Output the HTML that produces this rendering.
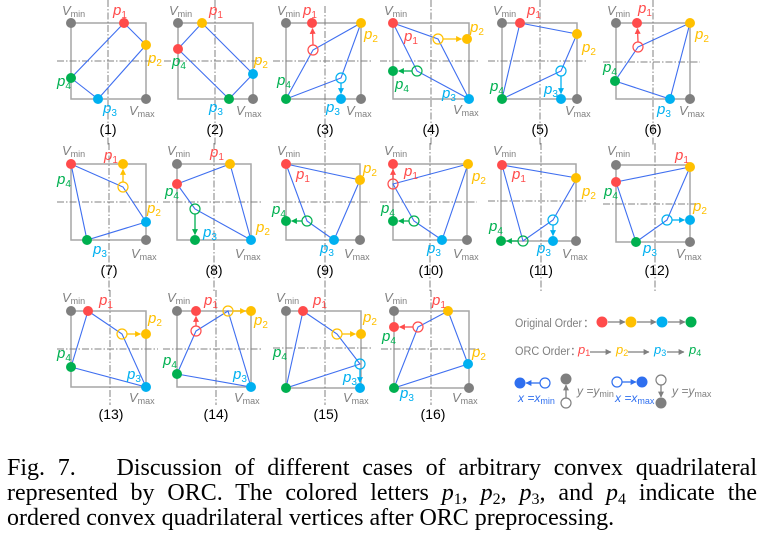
<!DOCTYPE html>
<html><head><meta charset="utf-8">
<style>
html,body{margin:0;padding:0;background:#fff;}
body{width:765px;height:538px;position:relative;overflow:hidden;}
svg{position:absolute;left:0;top:0;}
.bx{fill:none;stroke:#a6a6a6;stroke-width:1.5}
.dd{fill:none;stroke:#808080;stroke-width:1;stroke-dasharray:7 2 1.5 2}
.q{fill:none;stroke:#3f6ff0;stroke-width:1.1}
.r{fill:#ff4b4b}.o{fill:#ffc000}.b{fill:#00b0f0}.g{fill:#00b050}.k{fill:#7f7f7f}
.hr{fill:none;stroke:#ff4b4b;stroke-width:1.2}
.ho{fill:none;stroke:#ffc000;stroke-width:1.2}
.hb{fill:none;stroke:#00b0f0;stroke-width:1.2}
.hg{fill:none;stroke:#00b050;stroke-width:1.2}
.ar{stroke:#ff4b4b;stroke-width:1.3;marker-end:url(#mR)}
.ao{stroke:#ffc000;stroke-width:1.3;marker-end:url(#mO)}
.ab{stroke:#00b0f0;stroke-width:1.3;marker-end:url(#mB)}
.ag{stroke:#00b050;stroke-width:1.3;marker-end:url(#mG)}
.ak{stroke:#7f7f7f;stroke-width:1.3;marker-end:url(#mK)}
.al{stroke:#2f6fef;stroke-width:1.3;marker-end:url(#mL)}
text{font-family:"Liberation Sans","Noto Sans CJK SC",sans-serif;}
.v{font-style:italic;font-size:13px;fill:#7f7f7f}
.p{font-style:italic;font-size:15px}
.s{font-style:normal;font-size:9px}
.s2{font-style:normal;font-size:10px}
.n{font-size:14px;fill:#000;text-anchor:middle}
.lg{font-size:11.5px;fill:#7f7f7f}
.lp{font-style:italic;font-size:13px}
.lx{font-style:italic;font-size:12px;fill:#2f6fef}
.ly{font-style:italic;font-size:12px;fill:#7f7f7f}
.cap{position:absolute;left:7px;width:750px;font-family:"Liberation Serif",serif;font-size:24px;line-height:25px;height:25px;white-space:normal;color:#000;}
.j{text-align:justify;text-align-last:justify;}
.cap sub{font-size:16px;vertical-align:0;position:relative;top:4px;line-height:0;}
</style></head>
<body>
<svg width="765" height="440" viewBox="0 0 765 440" xmlns="http://www.w3.org/2000/svg">
<defs>
<marker id="mR" viewBox="0 0 10 10" refX="9" refY="5" markerWidth="6" markerHeight="6" markerUnits="userSpaceOnUse" orient="auto"><path d="M0,0L10,5L0,10z" fill="#ff4b4b"/></marker>
<marker id="mO" viewBox="0 0 10 10" refX="9" refY="5" markerWidth="6" markerHeight="6" markerUnits="userSpaceOnUse" orient="auto"><path d="M0,0L10,5L0,10z" fill="#ffc000"/></marker>
<marker id="mB" viewBox="0 0 10 10" refX="9" refY="5" markerWidth="6" markerHeight="6" markerUnits="userSpaceOnUse" orient="auto"><path d="M0,0L10,5L0,10z" fill="#00b0f0"/></marker>
<marker id="mG" viewBox="0 0 10 10" refX="9" refY="5" markerWidth="6" markerHeight="6" markerUnits="userSpaceOnUse" orient="auto"><path d="M0,0L10,5L0,10z" fill="#00b050"/></marker>
<marker id="mK" viewBox="0 0 10 10" refX="9" refY="5" markerWidth="6" markerHeight="6" markerUnits="userSpaceOnUse" orient="auto"><path d="M0,0L10,5L0,10z" fill="#7f7f7f"/></marker>
<marker id="mL" viewBox="0 0 10 10" refX="9" refY="5" markerWidth="6" markerHeight="6" markerUnits="userSpaceOnUse" orient="auto"><path d="M0,0L10,5L0,10z" fill="#2f6fef"/></marker>
</defs>

<!-- Panel 1 -->
<rect class="bx" x="71" y="23" width="75" height="76"/>
<path class="dd" d="M108 0V146M57 61H158"/>
<polygon class="q" points="124,23 146,45 98,99 71,78"/>
<circle class="k" cx="71" cy="23" r="5"/><circle class="k" cx="146" cy="99" r="5"/>
<circle class="r" cx="124" cy="23" r="5"/><circle class="o" cx="146" cy="45" r="5"/><circle class="b" cx="98" cy="99" r="5"/><circle class="g" cx="71" cy="78" r="5"/>
<text class="v" x="62" y="15">V<tspan class="s" dy="2">min</tspan></text>
<text class="v" x="129" y="115">V<tspan class="s" dy="2">max</tspan></text>
<text class="p r" x="113" y="15">p<tspan class="s2" dy="3">1</tspan></text>
<text class="p o" x="148" y="63">p<tspan class="s2" dy="3">2</tspan></text>
<text class="p b" x="103" y="113">p<tspan class="s2" dy="3">3</tspan></text>
<text class="p g" x="57" y="86">p<tspan class="s2" dy="3">4</tspan></text>
<text class="n" x="108" y="134">(1)</text>

<!-- Panel 2 -->
<rect class="bx" x="178" y="23" width="75" height="76"/>
<path class="dd" d="M215 0V146M164 61H263"/>
<polygon class="q" points="178,49 202,23 253,74 229,99"/>
<circle class="k" cx="178" cy="23" r="5"/><circle class="k" cx="253" cy="99" r="5"/>
<circle class="r" cx="178" cy="49" r="5"/><circle class="o" cx="202" cy="23" r="5"/><circle class="b" cx="253" cy="74" r="5"/><circle class="g" cx="229" cy="99" r="5"/>
<text class="v" x="169" y="15">V<tspan class="s" dy="2">min</tspan></text>
<text class="v" x="236" y="115">V<tspan class="s" dy="2">max</tspan></text>
<text class="p r" x="209" y="15">p<tspan class="s2" dy="3">1</tspan></text>
<text class="p o" x="254" y="65">p<tspan class="s2" dy="3">2</tspan></text>
<text class="p b" x="209" y="112">p<tspan class="s2" dy="3">3</tspan></text>
<text class="p g" x="172" y="66">p<tspan class="s2" dy="3">4</tspan></text>
<text class="n" x="215" y="134">(2)</text>

<!-- Panel 3 -->
<rect class="bx" x="286" y="23" width="75" height="76"/>
<path class="dd" d="M325 6V146M273 61H372"/>
<polygon class="q" points="286,99 313,50 361,23 341,78"/>
<circle class="k" cx="286" cy="23" r="5"/><circle class="k" cx="361" cy="99" r="5"/>
<circle class="r" cx="312" cy="23" r="5"/><circle class="o" cx="361" cy="23" r="5"/><circle class="b" cx="341" cy="99" r="5"/><circle class="g" cx="286" cy="99" r="5"/>
<circle class="hr" cx="313" cy="50" r="5"/><circle class="hb" cx="341" cy="78" r="5"/>
<line class="ar" x1="313" y1="45" x2="312.5" y2="28.5"/>
<line class="ab" x1="341" y1="83" x2="341" y2="93.5"/>
<text class="v" x="277" y="15">V<tspan class="s" dy="2">min</tspan></text>
<text class="v" x="346" y="115">V<tspan class="s" dy="2">max</tspan></text>
<text class="p r" x="303" y="15">p<tspan class="s2" dy="3">1</tspan></text>
<text class="p o" x="364" y="39">p<tspan class="s2" dy="3">2</tspan></text>
<text class="p b" x="326" y="112">p<tspan class="s2" dy="3">3</tspan></text>
<text class="p g" x="277" y="85">p<tspan class="s2" dy="3">4</tspan></text>
<text class="n" x="325" y="134">(3)</text>

<!-- Panel 4 -->
<rect class="bx" x="393" y="23" width="76" height="76"/>
<path class="dd" d="M431 0V146M380 61H479"/>
<polygon class="q" points="393,23 438,39 469,99 417,71"/>
<circle class="r" cx="393" cy="23" r="5"/><circle class="o" cx="467" cy="39" r="5"/><circle class="b" cx="469" cy="99" r="5"/><circle class="g" cx="393" cy="71" r="5"/>
<circle class="ho" cx="438" cy="39" r="5"/><circle class="hg" cx="417" cy="71" r="5"/>
<line class="ao" x1="443" y1="39" x2="461.5" y2="39"/>
<line class="ag" x1="412" y1="71" x2="398.5" y2="71"/>
<text class="v" x="384" y="15">V<tspan class="s" dy="2">min</tspan></text>
<text class="v" x="453" y="114">V<tspan class="s" dy="2">max</tspan></text>
<text class="p r" x="404" y="41">p<tspan class="s2" dy="3">1</tspan></text>
<text class="p o" x="470" y="32">p<tspan class="s2" dy="3">2</tspan></text>
<text class="p b" x="442" y="98">p<tspan class="s2" dy="3">3</tspan></text>
<text class="p g" x="395" y="89">p<tspan class="s2" dy="3">4</tspan></text>
<text class="n" x="431" y="134">(4)</text>

<!-- Panel 5 -->
<rect class="bx" x="502" y="23" width="75" height="76"/>
<path class="dd" d="M540 0V146M488 61H587"/>
<polygon class="q" points="520,23 577,34 561,71 502,99"/>
<circle class="k" cx="502" cy="23" r="5"/><circle class="k" cx="577" cy="99" r="5"/>
<circle class="r" cx="520" cy="23" r="5"/><circle class="o" cx="577" cy="34" r="5"/><circle class="b" cx="561" cy="99" r="5"/><circle class="g" cx="502" cy="99" r="5"/>
<circle class="hb" cx="561" cy="71" r="5"/>
<line class="ab" x1="561" y1="76" x2="561" y2="93.5"/>
<text class="v" x="493" y="15">V<tspan class="s" dy="2">min</tspan></text>
<text class="v" x="565" y="115">V<tspan class="s" dy="2">max</tspan></text>
<text class="p r" x="527" y="15">p<tspan class="s2" dy="3">1</tspan></text>
<text class="p o" x="582" y="52">p<tspan class="s2" dy="3">2</tspan></text>
<text class="p b" x="544" y="94">p<tspan class="s2" dy="3">3</tspan></text>
<text class="p g" x="490" y="91">p<tspan class="s2" dy="3">4</tspan></text>
<text class="n" x="540" y="134">(5)</text>

<!-- Panel 6 -->
<rect class="bx" x="616" y="23" width="74" height="76"/>
<path class="dd" d="M653 0V146M603 62H700"/>
<polygon class="q" points="638,47 690,23 670,99 615,81"/>
<circle class="k" cx="616" cy="23" r="5"/><circle class="k" cx="690" cy="99" r="5"/>
<circle class="r" cx="637" cy="23" r="5"/><circle class="o" cx="690" cy="23" r="5"/><circle class="b" cx="670" cy="99" r="5"/><circle class="g" cx="615" cy="81" r="5"/>
<circle class="hr" cx="638" cy="47" r="5"/>
<line class="ar" x1="638" y1="42" x2="637.5" y2="28.5"/>
<text class="v" x="607" y="15">V<tspan class="s" dy="2">min</tspan></text>
<text class="v" x="679" y="115">V<tspan class="s" dy="2">max</tspan></text>
<text class="p r" x="638" y="13">p<tspan class="s2" dy="3">1</tspan></text>
<text class="p o" x="695" y="39">p<tspan class="s2" dy="3">2</tspan></text>
<text class="p b" x="657" y="114">p<tspan class="s2" dy="3">3</tspan></text>
<text class="p g" x="603" y="72">p<tspan class="s2" dy="3">4</tspan></text>
<text class="n" x="653" y="134">(6)</text>

<!-- Panel 7 -->
<rect class="bx" x="71" y="164" width="75" height="76"/>
<path class="dd" d="M109 143V292M57 202H158"/>
<polygon class="q" points="71,164 123,187 146,222 87,240"/>
<circle class="k" cx="146" cy="240" r="5"/>
<circle class="r" cx="71" cy="164" r="5"/><circle class="o" cx="123" cy="164" r="5"/><circle class="b" cx="146" cy="222" r="5"/><circle class="g" cx="87" cy="240" r="5"/>
<circle class="ho" cx="123" cy="187" r="5"/>
<line class="ao" x1="123" y1="182" x2="123" y2="169.5"/>
<text class="v" x="62" y="155">V<tspan class="s" dy="2">min</tspan></text>
<text class="v" x="131" y="258">V<tspan class="s" dy="2">max</tspan></text>
<text class="p r" x="104" y="160">p<tspan class="s2" dy="3">1</tspan></text>
<text class="p o" x="147" y="213">p<tspan class="s2" dy="3">2</tspan></text>
<text class="p b" x="93" y="254">p<tspan class="s2" dy="3">3</tspan></text>
<text class="p g" x="57" y="184">p<tspan class="s2" dy="3">4</tspan></text>
<text class="n" x="109" y="275">(7)</text>

<!-- Panel 8 -->
<rect class="bx" x="177" y="164" width="74" height="76"/>
<path class="dd" d="M214 143V292M163 202H262"/>
<polygon class="q" points="177,184 230,164 251,240 195,209"/>
<circle class="k" cx="177" cy="164" r="5"/>
<circle class="r" cx="177" cy="184" r="5"/><circle class="o" cx="230" cy="164" r="5"/><circle class="b" cx="251" cy="240" r="5"/><circle class="g" cx="195" cy="240" r="5"/>
<circle class="hg" cx="195" cy="209" r="5"/>
<line class="ag" x1="195" y1="214" x2="195" y2="234.5"/>
<text class="v" x="167" y="155">V<tspan class="s" dy="2">min</tspan></text>
<text class="v" x="235" y="258">V<tspan class="s" dy="2">max</tspan></text>
<text class="p r" x="210" y="157">p<tspan class="s2" dy="3">1</tspan></text>
<text class="p o" x="256" y="232">p<tspan class="s2" dy="3">2</tspan></text>
<text class="p b" x="203" y="237">p<tspan class="s2" dy="3">3</tspan></text>
<text class="p g" x="165" y="196">p<tspan class="s2" dy="3">4</tspan></text>
<text class="n" x="214" y="275">(8)</text>

<!-- Panel 9 -->
<rect class="bx" x="286" y="164" width="74" height="76"/>
<path class="dd" d="M325 143V292M273 202H370"/>
<polygon class="q" points="286,164 360,180 334,240 307,221"/>
<circle class="k" cx="360" cy="240" r="5"/>
<circle class="r" cx="286" cy="164" r="5"/><circle class="o" cx="360" cy="180" r="5"/><circle class="b" cx="334" cy="240" r="5"/><circle class="g" cx="286" cy="221" r="5"/>
<circle class="hg" cx="307" cy="221" r="5"/>
<line class="ag" x1="302" y1="221" x2="291.5" y2="221"/>
<text class="v" x="277" y="155">V<tspan class="s" dy="2">min</tspan></text>
<text class="v" x="344" y="258">V<tspan class="s" dy="2">max</tspan></text>
<text class="p r" x="296" y="179">p<tspan class="s2" dy="3">1</tspan></text>
<text class="p o" x="363" y="173">p<tspan class="s2" dy="3">2</tspan></text>
<text class="p b" x="320" y="253">p<tspan class="s2" dy="3">3</tspan></text>
<text class="p g" x="272" y="214">p<tspan class="s2" dy="3">4</tspan></text>
<text class="n" x="325" y="275">(9)</text>

<!-- Panel 10 -->
<rect class="bx" x="393" y="164" width="74" height="76"/>
<path class="dd" d="M430 143V292M380 202H477"/>
<polygon class="q" points="393,184 468,164 442,240 414,221"/>
<circle class="k" cx="467" cy="240" r="5"/>
<circle class="r" cx="393" cy="164" r="5"/><circle class="o" cx="468" cy="164" r="5"/><circle class="b" cx="442" cy="240" r="5"/><circle class="g" cx="393" cy="221" r="5"/>
<circle class="hr" cx="393" cy="184" r="5"/><circle class="hg" cx="414" cy="221" r="5"/>
<line class="ar" x1="393" y1="179" x2="393" y2="169.5"/>
<line class="ag" x1="409" y1="221" x2="398.5" y2="221"/>
<text class="v" x="384" y="155">V<tspan class="s" dy="2">min</tspan></text>
<text class="v" x="453" y="258">V<tspan class="s" dy="2">max</tspan></text>
<text class="p r" x="404" y="176">p<tspan class="s2" dy="3">1</tspan></text>
<text class="p o" x="472" y="181">p<tspan class="s2" dy="3">2</tspan></text>
<text class="p b" x="427" y="253">p<tspan class="s2" dy="3">3</tspan></text>
<text class="p g" x="381" y="213">p<tspan class="s2" dy="3">4</tspan></text>
<text class="n" x="431" y="275">(10)</text>

<!-- Panel 11 -->
<rect class="bx" x="501" y="164" width="75" height="77"/>
<path class="dd" d="M541 143V292M488 201H586"/>
<polygon class="q" points="502,165 577,178 553,220 523,241"/>
<circle class="k" cx="576" cy="241" r="5"/>
<circle class="r" cx="502" cy="165" r="5"/><circle class="o" cx="576" cy="178" r="5"/><circle class="b" cx="553" cy="241" r="5"/><circle class="g" cx="501" cy="241" r="5"/>
<circle class="hb" cx="553" cy="220" r="5"/><circle class="hg" cx="523" cy="241" r="5"/>
<line class="ab" x1="553" y1="225" x2="553" y2="235.5"/>
<line class="ag" x1="518" y1="241" x2="506.5" y2="241"/>
<text class="v" x="493" y="155">V<tspan class="s" dy="2">min</tspan></text>
<text class="v" x="562" y="258">V<tspan class="s" dy="2">max</tspan></text>
<text class="p r" x="512" y="179">p<tspan class="s2" dy="3">1</tspan></text>
<text class="p o" x="582" y="196">p<tspan class="s2" dy="3">2</tspan></text>
<text class="p b" x="537" y="253">p<tspan class="s2" dy="3">3</tspan></text>
<text class="p g" x="489" y="231">p<tspan class="s2" dy="3">4</tspan></text>
<text class="n" x="541" y="275">(11)</text>

<!-- Panel 12 -->
<rect class="bx" x="616" y="165" width="74" height="77"/>
<path class="dd" d="M655 143V292M603 204H700"/>
<polygon class="q" points="616,182 690,167 667,220 636,242"/>
<circle class="k" cx="616" cy="165" r="5"/><circle class="k" cx="690" cy="242" r="5"/>
<circle class="r" cx="616" cy="182" r="5"/><circle class="o" cx="690" cy="167" r="5"/><circle class="b" cx="690" cy="220" r="5"/><circle class="g" cx="636" cy="242" r="5"/>
<circle class="hb" cx="667" cy="220" r="5"/>
<line class="ab" x1="672" y1="220" x2="684.5" y2="220"/>
<text class="v" x="607" y="155">V<tspan class="s" dy="2">min</tspan></text>
<text class="v" x="676" y="258">V<tspan class="s" dy="2">max</tspan></text>
<text class="p r" x="675" y="160">p<tspan class="s2" dy="3">1</tspan></text>
<text class="p o" x="693" y="211">p<tspan class="s2" dy="3">2</tspan></text>
<text class="p b" x="643" y="253">p<tspan class="s2" dy="3">3</tspan></text>
<text class="p g" x="604" y="196">p<tspan class="s2" dy="3">4</tspan></text>
<text class="n" x="657" y="275">(12)</text>

<!-- Panel 13 -->
<rect class="bx" x="71" y="311" width="75" height="76"/>
<path class="dd" d="M110 290V405M57 349H158"/>
<polygon class="q" points="88,311 122,334 146,387 71,367"/>
<circle class="k" cx="71" cy="311" r="5"/>
<circle class="r" cx="88" cy="311" r="5"/><circle class="o" cx="146" cy="334" r="5"/><circle class="b" cx="146" cy="387" r="5"/><circle class="g" cx="71" cy="367" r="5"/>
<circle class="ho" cx="122" cy="334" r="5"/>
<line class="ao" x1="127" y1="334" x2="140.5" y2="334"/>
<text class="v" x="62" y="302">V<tspan class="s" dy="2">min</tspan></text>
<text class="v" x="129" y="402">V<tspan class="s" dy="2">max</tspan></text>
<text class="p r" x="99" y="305">p<tspan class="s2" dy="3">1</tspan></text>
<text class="p o" x="148" y="323">p<tspan class="s2" dy="3">2</tspan></text>
<text class="p b" x="127" y="379">p<tspan class="s2" dy="3">3</tspan></text>
<text class="p g" x="57" y="358">p<tspan class="s2" dy="3">4</tspan></text>
<text class="n" x="111" y="419">(13)</text>

<!-- Panel 14 -->
<rect class="bx" x="177" y="311" width="74" height="76"/>
<path class="dd" d="M216 290V405M163 349H262"/>
<polygon class="q" points="196,331 228,311 251,387 177,374"/>
<circle class="k" cx="177" cy="311" r="5"/>
<circle class="r" cx="196" cy="311" r="5"/><circle class="o" cx="251" cy="311" r="5"/><circle class="b" cx="251" cy="387" r="5"/><circle class="g" cx="177" cy="374" r="5"/>
<circle class="hr" cx="196" cy="331" r="5"/><circle class="ho" cx="228" cy="311" r="5"/>
<line class="ar" x1="196" y1="326" x2="196" y2="316.5"/>
<line class="ao" x1="233" y1="311" x2="245.5" y2="311"/>
<text class="v" x="167" y="302">V<tspan class="s" dy="2">min</tspan></text>
<text class="v" x="234" y="402">V<tspan class="s" dy="2">max</tspan></text>
<text class="p r" x="204" y="305">p<tspan class="s2" dy="3">1</tspan></text>
<text class="p o" x="254" y="325">p<tspan class="s2" dy="3">2</tspan></text>
<text class="p b" x="233" y="379">p<tspan class="s2" dy="3">3</tspan></text>
<text class="p g" x="163" y="365">p<tspan class="s2" dy="3">4</tspan></text>
<text class="n" x="216" y="419">(14)</text>

<!-- Panel 15 -->
<rect class="bx" x="286" y="311" width="75" height="77"/>
<path class="dd" d="M325 290V405M273 348H372"/>
<polygon class="q" points="303,311 337,334 360,364 286,388"/>
<circle class="k" cx="286" cy="311" r="5"/>
<circle class="r" cx="303" cy="311" r="5"/><circle class="o" cx="361" cy="334" r="5"/><circle class="b" cx="360" cy="388" r="5"/><circle class="g" cx="286" cy="388" r="5"/>
<circle class="ho" cx="337" cy="334" r="5"/><circle class="hb" cx="360" cy="364" r="5"/>
<line class="ao" x1="342" y1="334" x2="355.5" y2="334"/>
<line class="ab" x1="360" y1="369" x2="360" y2="382.5"/>
<text class="v" x="276" y="302">V<tspan class="s" dy="2">min</tspan></text>
<text class="v" x="343" y="402">V<tspan class="s" dy="2">max</tspan></text>
<text class="p r" x="313" y="305">p<tspan class="s2" dy="3">1</tspan></text>
<text class="p o" x="363" y="322">p<tspan class="s2" dy="3">2</tspan></text>
<text class="p b" x="343" y="382">p<tspan class="s2" dy="3">3</tspan></text>
<text class="p g" x="273" y="357">p<tspan class="s2" dy="3">4</tspan></text>
<text class="n" x="326" y="419">(15)</text>

<!-- Panel 16 -->
<rect class="bx" x="394" y="311" width="75" height="77"/>
<path class="dd" d="M431 290V405M381 349H479"/>
<polygon class="q" points="418,327 448,311 468,364 394,388"/>
<circle class="k" cx="394" cy="311" r="5"/><circle class="k" cx="469" cy="388" r="5"/>
<circle class="r" cx="394" cy="327" r="5"/><circle class="o" cx="448" cy="311" r="5"/><circle class="b" cx="468" cy="364" r="5"/><circle class="g" cx="394" cy="388" r="5"/>
<circle class="hr" cx="418" cy="327" r="5"/>
<line class="ar" x1="413" y1="327" x2="399.5" y2="327"/>
<text class="v" x="384" y="302">V<tspan class="s" dy="2">min</tspan></text>
<text class="v" x="452" y="402">V<tspan class="s" dy="2">max</tspan></text>
<text class="p r" x="432" y="305">p<tspan class="s2" dy="3">1</tspan></text>
<text class="p o" x="472" y="357">p<tspan class="s2" dy="3">2</tspan></text>
<text class="p b" x="400" y="398">p<tspan class="s2" dy="3">3</tspan></text>
<text class="p g" x="382" y="341">p<tspan class="s2" dy="3">4</tspan></text>
<text class="n" x="433" y="419">(16)</text>

<!-- Legend -->
<text class="lg" x="515" y="327" textLength="67" lengthAdjust="spacingAndGlyphs">Original Order</text>
<text class="lg" x="583" y="327">：</text>
<line class="ak" x1="608" y1="322" x2="625" y2="322"/>
<line class="ak" x1="637" y1="322" x2="656" y2="322"/>
<line class="ak" x1="668" y1="322" x2="685" y2="322"/>
<circle class="r" cx="602" cy="322" r="5.5"/><circle class="o" cx="631" cy="322" r="5.5"/><circle class="b" cx="662" cy="322" r="5.5"/><circle class="g" cx="691" cy="322" r="5.5"/>

<text class="lg" x="515" y="355" textLength="55" lengthAdjust="spacingAndGlyphs">ORC Order</text>
<text class="lg" x="570" y="355">：</text>
<text class="lp r" x="578" y="354">p<tspan class="s" dy="2">1</tspan></text>
<line class="ak" x1="590" y1="352" x2="611" y2="352"/>
<text class="lp o" x="616" y="354">p<tspan class="s" dy="2">2</tspan></text>
<line class="ak" x1="628" y1="352" x2="649" y2="352"/>
<text class="lp b" x="654" y="354">p<tspan class="s" dy="2">3</tspan></text>
<line class="ak" x1="667" y1="352" x2="684" y2="352"/>
<text class="lp g" x="689" y="354">p<tspan class="s" dy="2">4</tspan></text>

<circle cx="520" cy="383" r="5.5" fill="#2f6fef"/>
<circle cx="545" cy="383" r="5" fill="none" stroke="#2f6fef" stroke-width="1.2"/>
<line class="al" x1="540" y1="383" x2="526" y2="383"/>
<text class="lx" x="518" y="402">x =x<tspan class="s" dy="2">min</tspan></text>

<circle class="k" cx="566" cy="379" r="5.5"/>
<circle cx="566" cy="403" r="5" fill="none" stroke="#7f7f7f" stroke-width="1.2"/>
<line class="ak" x1="566" y1="398" x2="566" y2="385"/>
<text class="ly" x="577" y="395">y =y<tspan class="s" dy="2">min</tspan></text>

<circle cx="617" cy="382" r="5" fill="none" stroke="#2f6fef" stroke-width="1.2"/>
<circle cx="642" cy="382" r="5.5" fill="#2f6fef"/>
<line class="al" x1="622" y1="382" x2="636" y2="382"/>
<text class="lx" x="615" y="402">x =x<tspan class="s" dy="2">max</tspan></text>

<circle cx="661" cy="380" r="5" fill="none" stroke="#7f7f7f" stroke-width="1.2"/>
<circle class="k" cx="661" cy="403" r="5.5"/>
<line class="ak" x1="661" y1="385" x2="661" y2="397"/>
<text class="ly" x="672" y="395">y =y<tspan class="s" dy="2">max</tspan></text>
</svg>

<div class="cap j" style="top:456px;">Fig. 7.<span style="display:inline-block;width:28px"></span> Discussion of different cases of arbitrary convex quadrilateral</div>
<div class="cap j" style="top:481px;">represented by ORC. The colored letters <i>p</i><sub>1</sub>, <i>p</i><sub>2</sub>, <i>p</i><sub>3</sub>, and <i>p</i><sub>4</sub> indicate the</div>
<div class="cap" style="top:506px;">ordered convex quadrilateral vertices after ORC preprocessing.</div>
</body></html>
